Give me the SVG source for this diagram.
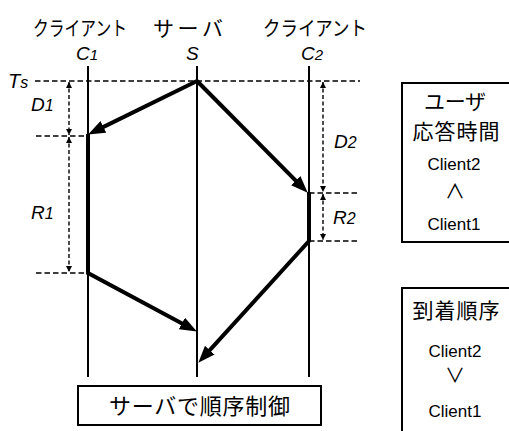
<svg xmlns="http://www.w3.org/2000/svg" width="509" height="431" viewBox="0 0 509 431">
<style>
.jp{font-family:"Noto Sans CJK JP","Noto Sans CJK SC",sans-serif;fill:#000}
.lat{font-family:"Liberation Sans",Arial,sans-serif;fill:#000}
.it{font-family:"Liberation Sans",Arial,sans-serif;font-style:italic;fill:#000}
.sym{font-family:"Noto Sans CJK JP","Noto Sans CJK SC",sans-serif;fill:#000}
.life{stroke:#000;stroke-width:2;fill:none}
.msg{stroke:#000;stroke-width:4;fill:none;stroke-linejoin:miter}
.hd{stroke:#000;stroke-width:1.6;stroke-dasharray:5.5,3;fill:none}
.vd{stroke:#000;stroke-width:1.4;stroke-dasharray:4,2.5;fill:none}
.box{stroke:#000;stroke-width:2;fill:#fff}
</style>
<defs>
<marker id="big" markerUnits="userSpaceOnUse" markerWidth="17" markerHeight="13" refX="6" refY="6.5" orient="auto" viewBox="0 0 17 13">
<path d="M0,0 L17,6.5 L0,13 z" fill="#000"/>
</marker>
<marker id="small" markerUnits="userSpaceOnUse" markerWidth="6" markerHeight="6" refX="6" refY="3" orient="auto-start-reverse" viewBox="0 0 6 6">
<path d="M0,0 L6,3 L0,6 z" fill="#000"/>
</marker>
</defs>
<rect width="509" height="431" fill="#fff"/>

<g id="c1">
<text class="jp" x="80" y="36" font-size="20" text-anchor="middle" textLength="94" lengthAdjust="spacingAndGlyphs">クライアント</text>
<text class="it" x="76" y="60" font-size="19">C<tspan font-size="15">1</tspan></text>
<line class="life" x1="88" y1="66" x2="88" y2="377"/>
</g>
<g id="s">
<text class="jp" x="188" y="36" font-size="21" text-anchor="middle" textLength="70">サーバ</text>
<text class="it" x="186" y="60" font-size="19">S</text>
<line class="life" x1="197" y1="66" x2="197" y2="377"/>
</g>
<g id="c2">
<text class="jp" x="315" y="36" font-size="20" text-anchor="middle" textLength="104" lengthAdjust="spacingAndGlyphs">クライアント</text>
<text class="it" x="301" y="60" font-size="19">C<tspan font-size="15">2</tspan></text>
<line class="life" x1="309" y1="66" x2="309" y2="377"/>
</g>

<g id="labels">
<text class="it" x="8" y="88" font-size="20">T<tspan font-size="16">s</tspan></text>
<text class="it" x="31" y="111" font-size="19">D<tspan font-size="16">1</tspan></text>
<text class="it" x="31" y="219" font-size="19">R<tspan font-size="16">1</tspan></text>
<text class="it" x="334" y="148" font-size="19">D<tspan font-size="16">2</tspan></text>
<text class="it" x="333" y="224" font-size="19">R<tspan font-size="16">2</tspan></text>
</g>

<g id="guides">
<line class="hd" x1="35" y1="81" x2="360" y2="81"/>
<line class="hd" x1="36" y1="136" x2="88" y2="136"/>
<line class="hd" x1="36" y1="273" x2="88" y2="273"/>
<line class="hd" x1="309" y1="193" x2="360" y2="193"/>
<line class="hd" x1="309" y1="241" x2="360" y2="241"/>
<line class="vd" x1="69" y1="82" x2="69" y2="135" marker-start="url(#small)" marker-end="url(#small)"/>
<line class="vd" x1="69" y1="137" x2="69" y2="272" marker-start="url(#small)" marker-end="url(#small)"/>
<line class="vd" x1="323" y1="82" x2="323" y2="192" marker-start="url(#small)" marker-end="url(#small)"/>
<line class="vd" x1="323" y1="194" x2="323" y2="240" marker-start="url(#small)" marker-end="url(#small)"/>
</g>

<g id="connectors">
<line class="msg" x1="197" y1="81" x2="97.98" y2="129.59" marker-end="url(#big)"/>
<line class="msg" x1="197" y1="81" x2="299.96" y2="184.9" marker-end="url(#big)"/>
<path class="msg" d="M88,134 L88,273 L187.19,326.27" marker-end="url(#big)"/>
<path class="msg" d="M309,192 L309,241 L205.73,354.6" marker-end="url(#big)"/>
</g>

<g id="order-box">
<rect class="box" x="78" y="386" width="243" height="39"/>
<text class="jp" x="199.5" y="414" font-size="22" text-anchor="middle" textLength="181">サーバで順序制御</text>
</g>

<g id="response-box">
<rect class="box" x="402" y="83" width="120" height="159"/>
<text class="jp" x="455" y="109" font-size="21" text-anchor="middle" textLength="62">ユーザ</text>
<text class="jp" x="456" y="139" font-size="21" text-anchor="middle" textLength="87">応答時間</text>
<text class="lat" x="454" y="170" font-size="17" text-anchor="middle">Client2</text>
<text class="sym" x="455" y="199" font-size="20" text-anchor="middle">∧</text>
<text class="lat" x="454" y="230" font-size="17" text-anchor="middle">Client1</text>
</g>

<g id="arrival-box">
<rect class="box" x="402" y="288" width="120" height="160"/>
<text class="jp" x="456" y="318" font-size="21" text-anchor="middle" textLength="87">到着順序</text>
<text class="lat" x="455" y="357" font-size="17" text-anchor="middle">Client2</text>
<text class="sym" x="455" y="383" font-size="20" text-anchor="middle">∨</text>
<text class="lat" x="455" y="417" font-size="17" text-anchor="middle">Client1</text>
</g>
</svg>
